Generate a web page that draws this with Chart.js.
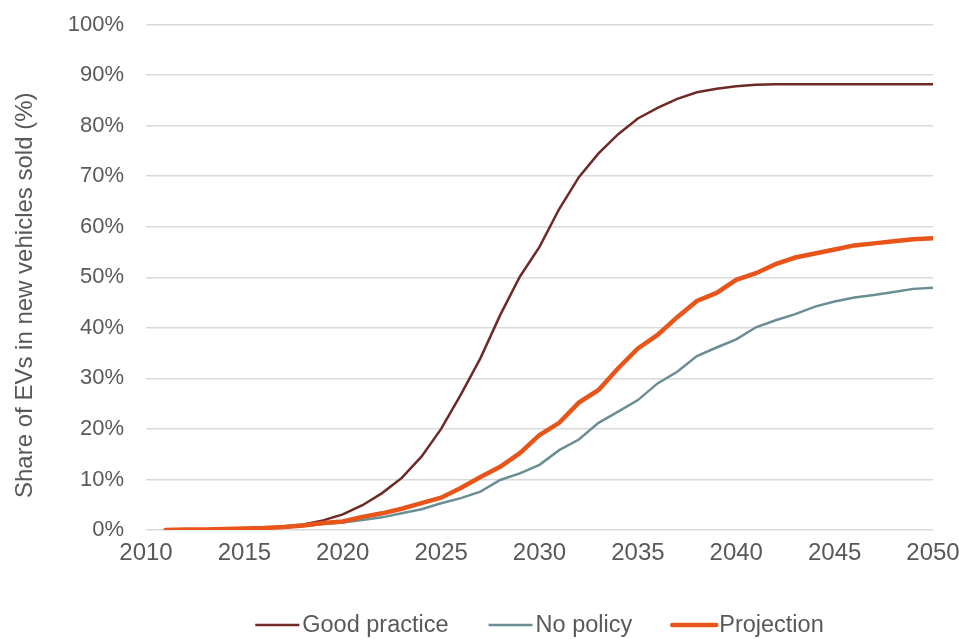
<!DOCTYPE html>
<html>
<head>
<meta charset="utf-8">
<script src="https://cdn.jsdelivr.net/npm/chart.js@4.4.1/dist/chart.umd.min.js"></script>
<style>
  html, body { margin: 0; padding: 0; background: #fff; }
  #wrap { width: 959px; height: 639px; }
</style>
</head>
<body>
<div id="wrap"><canvas id="chart" width="959" height="639"></canvas></div>
<script>
const years = [2011, 2012, 2013, 2014, 2015, 2016, 2017, 2018, 2019, 2020,
  2021, 2022, 2023, 2024, 2025, 2026, 2027, 2028, 2029, 2030,
  2031, 2032, 2033, 2034, 2035, 2036, 2037, 2038, 2039, 2040,
  2041, 2042, 2043, 2044, 2045, 2046, 2047, 2048, 2049, 2050]

const goodPractice = [0.0, 0.1, 0.1, 0.2, 0.3, 0.4, 0.7, 1.1, 1.9, 3.1,
  4.9, 7.3, 10.3, 14.5, 20.0, 26.8, 34.0, 42.5, 50.1, 56.0,
  63.5, 69.8, 74.5, 78.3, 81.4, 83.5, 85.3, 86.6, 87.3, 87.8,
  88.1, 88.2, 88.2, 88.2, 88.2, 88.2, 88.2, 88.2, 88.2, 88.2]

const noPolicy = [0.0, 0.1, 0.1, 0.2, 0.3, 0.4, 0.5, 0.8, 1.2, 1.5,
  2.0, 2.5, 3.3, 4.1, 5.3, 6.3, 7.6, 9.9, 11.2, 12.9,
  15.8, 17.9, 21.2, 23.4, 25.7, 29.0, 31.3, 34.4, 36.1, 37.7,
  40.1, 41.5, 42.7, 44.2, 45.2, 46.0, 46.5, 47.1, 47.7, 47.9]

const projection = [0.0, 0.1, 0.1, 0.2, 0.3, 0.4, 0.6, 0.9, 1.4, 1.7,
  2.6, 3.3, 4.2, 5.3, 6.4, 8.3, 10.5, 12.5, 15.2, 18.8,
  21.2, 25.2, 27.7, 32.0, 35.9, 38.6, 42.1, 45.3, 46.9, 49.5,
  50.8, 52.6, 53.9, 54.7, 55.5, 56.3, 56.7, 57.1, 57.5, 57.7]

const seriesNames = ['Good practice', 'No policy', 'Projection']
const yTitle = 'Share of EVs in new vehicles sold (%)'

const textColor = '#595959'
const gridColor = '#d9d9d9'
const fontFamily = '"Liberation Sans", Arial, sans-serif'

const toPoints = (values) => values.map((v, i) => ({ x: years[i], y: v }))

// axis title and legend, drawn by hand so they sit where the original has them
const extras = {
  id: 'extras',
  afterDraw(chart) {
    const ctx = chart.ctx
    const area = chart.chartArea
    ctx.save()

    // y axis title
    ctx.font = '24px ' + fontFamily
    ctx.fillStyle = textColor
    ctx.textAlign = 'center'
    ctx.textBaseline = 'middle'
    ctx.translate(25, (area.top + area.bottom) / 2 + 18)
    ctx.rotate(-Math.PI / 2)
    ctx.fillText(yTitle, 0, 0)
    ctx.setTransform(1, 0, 0, 1, 0, 0)
    ctx.scale(chart.currentDevicePixelRatio, chart.currentDevicePixelRatio)

    // legend
    const lineLen = 44
    const gapText = 3
    const gapItem = 40
    ctx.font = '23.5px ' + fontFamily
    ctx.textAlign = 'left'
    const items = chart.data.datasets.map(ds => ({
      ds: ds,
      w: lineLen + gapText + ctx.measureText(ds.label).width
    }))
    const total = items.reduce((s, it) => s + it.w, 0) + gapItem * (items.length - 1)
    let x = (area.left + area.right) / 2 - total / 2
    const y = chart.height - 14
    items.forEach(it => {
      ctx.beginPath()
      ctx.strokeStyle = it.ds.borderColor
      ctx.lineWidth = it.ds.borderWidth
      ctx.lineCap = it.ds.borderCapStyle || 'butt'
      ctx.moveTo(x, y)
      ctx.lineTo(x + lineLen, y)
      ctx.stroke()
      ctx.fillStyle = textColor
      ctx.fillText(it.ds.label, x + lineLen + gapText, y + 1)
      x += it.w + gapItem
    })
    ctx.restore()
  }
}

Chart.defaults.font.family = fontFamily
Chart.defaults.font.size = 22
Chart.defaults.color = textColor

new Chart(document.getElementById('chart'), {
  type: 'line',
  data: {
    datasets: [
      {
        label: seriesNames[0],
        data: toPoints(goodPractice),
        borderColor: '#6e2a26',
        borderWidth: 2.5,
        pointRadius: 0,
        tension: 0,
        order: 3
      },
      {
        label: seriesNames[1],
        data: toPoints(noPolicy),
        borderColor: '#6b8e95',
        borderWidth: 2.5,
        pointRadius: 0,
        tension: 0,
        order: 2
      },
      {
        label: seriesNames[2],
        data: toPoints(projection),
        borderColor: '#e8551a',
        borderWidth: 4.5,
        borderCapStyle: 'round',
        pointRadius: 0,
        tension: 0,
        order: 1
      }
    ]
  },
  options: {
    responsive: false,
    animation: false,
    layout: {
      padding: { left: 0, right: 26, top: 24.5, bottom: 74 }
    },
    plugins: {
      legend: { display: false },
      tooltip: { enabled: false }
    },
    scales: {
      x: {
        type: 'linear',
        min: 2010,
        max: 2050,
        ticks: {
          stepSize: 5,
          padding: 9,
          maxRotation: 0,
          font: { size: 24 },
          callback: (v) => String(v)
        },
        grid: { display: false, drawTicks: false },
        border: { display: false },
        afterFit: (scale) => {
          scale.height = 35
          scale.paddingLeft = 0
          scale.paddingRight = 0
        }
      },
      y: {
        min: 0,
        max: 100,
        ticks: {
          stepSize: 10,
          padding: 22,
          callback: (v) => v + '%'
        },
        grid: { color: gridColor, lineWidth: 1.5, drawTicks: false },
        border: { display: false },
        afterFit: (scale) => {
          scale.width = 146
          scale.paddingTop = 0
          scale.paddingBottom = 0
        }
      }
    }
  },
  plugins: [extras]
})
</script>
</body>
</html>
